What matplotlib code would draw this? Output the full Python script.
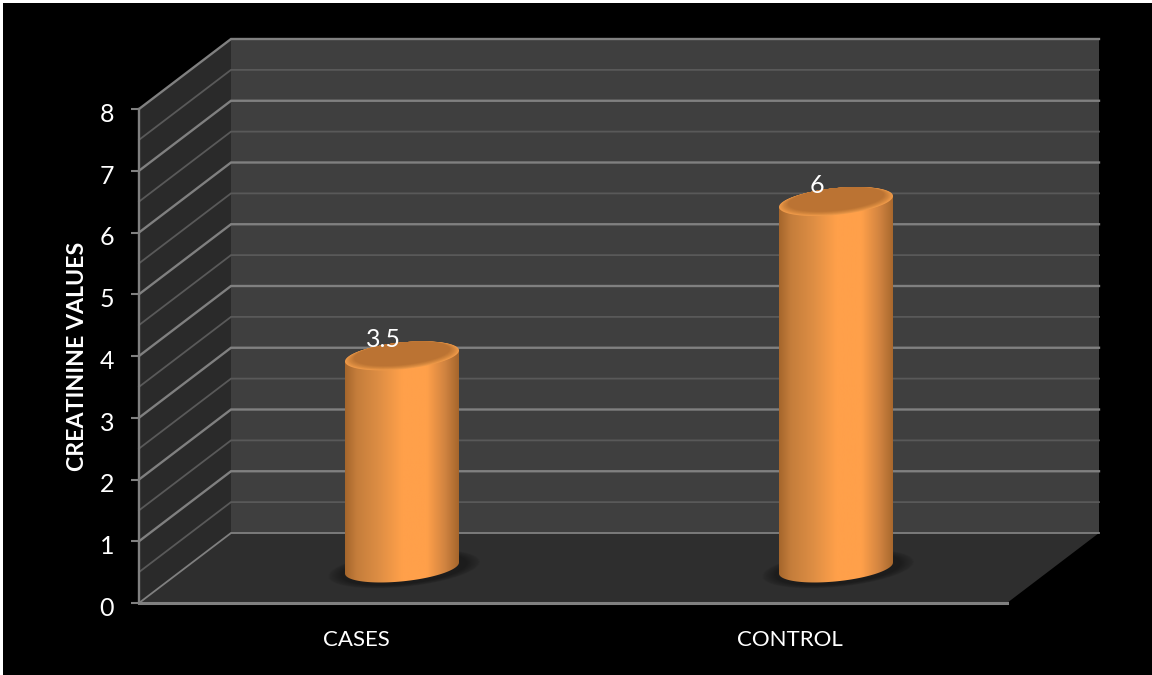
import numpy as np
import matplotlib
matplotlib.use('Agg')
import matplotlib.pyplot as plt
from matplotlib.colors import LinearSegmentedColormap
from matplotlib.patches import Polygon, Rectangle
from matplotlib.transforms import ScaledTranslation

plt.rcParams['font.family'] = ['Lato', 'DejaVu Sans']

categories = ['CASES', 'CONTROL']
values = [3.5, 6]
value_labels = ['3.5', '6']
y_ticks = [0, 1, 2, 3, 4, 5, 6, 7, 8]
y_title = 'CREATININE VALUES'

W, H = 1152, 675
# front plane of the 3d box, in pixels
LEFT, RIGHT, BOTTOM, TOP = 139, 1007, 603, 109
PX_X = (RIGHT - LEFT) / len(categories)
PX_Y = (BOTTOM - TOP) / 8
DX = 92 / PX_X
DY = 70 / PX_Y

WALL = '#3f3f3f'
SIDE = '#2a2a2a'
FLOOR = '#2e2e2e'
MAJOR = '#808080'
MINOR = '#595959'

fig = plt.figure(figsize=(W / 100, H / 100), dpi=100, facecolor='white')
fig.patches.append(Rectangle((3 / W, 0), 1, 1 - 3 / H, transform=fig.transFigure,
                             facecolor='black', edgecolor='none', zorder=-1))
ax = fig.add_axes([LEFT / W, 1 - BOTTOM / H, (RIGHT - LEFT) / W, (BOTTOM - TOP) / H])
ax.patch.set_visible(False)
for s in ax.spines.values():
    s.set_visible(False)
n = len(categories)

# walls and floor
ax.add_patch(Polygon([(DX, DY), (n + DX, DY), (n + DX, 8 + DY), (DX, 8 + DY)],
                     fc=WALL, ec='none', zorder=1, clip_on=False))
ax.add_patch(Polygon([(0, 0), (DX, DY), (DX, 8 + DY), (0, 8)],
                     fc=SIDE, ec='none', zorder=1, clip_on=False))
ax.add_patch(Polygon([(0, 0), (n, 0), (n + DX, DY), (DX, DY)],
                     fc=FLOOR, ec='none', zorder=1, clip_on=False))

# gridlines run along the side wall and then the back wall
for v in np.arange(0, 8.5, 0.5):
    major = float(v).is_integer()
    col = MAJOR if major else MINOR
    lw = 1.7 if major and v > 0 else 1.3
    ax.plot([0, DX, n + DX], [v, v + DY, v + DY], color=col, lw=lw, zorder=2,
            clip_on=False, solid_joinstyle='miter')

# axis lines
ax.plot([0, 0], [0, 8], color=MAJOR, lw=1.7, zorder=3, clip_on=False)
ax.plot([0, n], [0, 0], color=MAJOR, lw=2.2, zorder=3, clip_on=False)
ax.set_xticks([])
ax.set_yticks(y_ticks)
ax.set_yticklabels(y_ticks, color='white', fontsize=18)
ax.tick_params(axis='y', length=6, width=1.5, color=MAJOR, pad=12)
for lbl in ax.get_yticklabels():
    lbl.set_transform(lbl.get_transform() + ScaledTranslation(0, -2.5 / 72, fig.dpi_scale_trans))

for i, c in enumerate(categories):
    ax.text(i + 0.5, -37 / PX_Y, c, color='white', fontsize=16, ha='center', va='center')
fig.text(77 / W, 1 - 356.5 / H, y_title, color='white', fontsize=16.7, fontweight='bold',
         rotation=90, ha='center', va='center')

cyl_cmap = LinearSegmentedColormap.from_list('cyl', [
    (0, '#a5662c'), (0.1, '#c47d3b'), (0.3, '#de8e44'), (0.5, '#ffa04a'),
    (0.72, '#ffa04a'), (0.88, '#d08340'), (1, '#a5662c')])
cap_cmap = LinearSegmentedColormap.from_list('cap', ['#ef9a49', '#d0843c', '#bb7333'])

RX = 57 / PX_X
RY = 13.4 / PX_Y
TILT = 5.5 / PX_Y
t = np.linspace(0, 2 * np.pi, 120)


def ellipse(cx, cy, scale=1.0):
    return (cx + scale * RX * np.cos(t),
            cy + scale * (TILT * np.cos(t) + RY * np.sin(t)))


for i, v in enumerate(values):
    cx = i + 0.5 + DX / 2
    base = DY / 2
    top = v + DY / 2 - 4 / PX_Y

    # soft shadow on the floor
    for k in np.linspace(1.33, 1.0, 22):
        ex, ey = ellipse(cx + 0.005, base - 1 / PX_Y, k)
        ax.fill(ex, ey, color='#1c1c1c', alpha=0.07, lw=0, zorder=4)

    # side of the cylinder: gradient clipped to the outline
    bx, by = ellipse(cx, base)
    half = (t >= np.pi) & (t <= 2 * np.pi)
    outline = (list(zip(bx[half], by[half])) + [(cx + RX, top + TILT)]
               + [(cx - RX, top - TILT)] + [(cx - RX, base - TILT)])
    body = ax.imshow(np.linspace(0, 1, 256)[None, :], cmap=cyl_cmap, aspect='auto', zorder=5,
                     extent=[cx - RX, cx + RX, base - 2 * RY, top + 2 * RY])
    body.set_clip_path(Polygon(outline, transform=ax.transData))

    # top cap: nested ellipses give the bevelled rim
    for j, k in enumerate(np.linspace(1.0, 0.84, 9)):
        ex, ey = ellipse(cx, top + (1 - k) * RY, k)
        ax.fill(ex, ey, color=cap_cmap(j / 8), lw=0, zorder=6)

    ax.text(i + 0.5 + 27 / PX_X, v + DY / 2 + 12 / PX_Y,
            value_labels[i], color='white', fontsize=18, ha='center', va='center', zorder=8)

ax.set_xlim(0, n)
ax.set_ylim(0, 8)
fig.savefig('out.png', dpi=100, facecolor=fig.get_facecolor())
